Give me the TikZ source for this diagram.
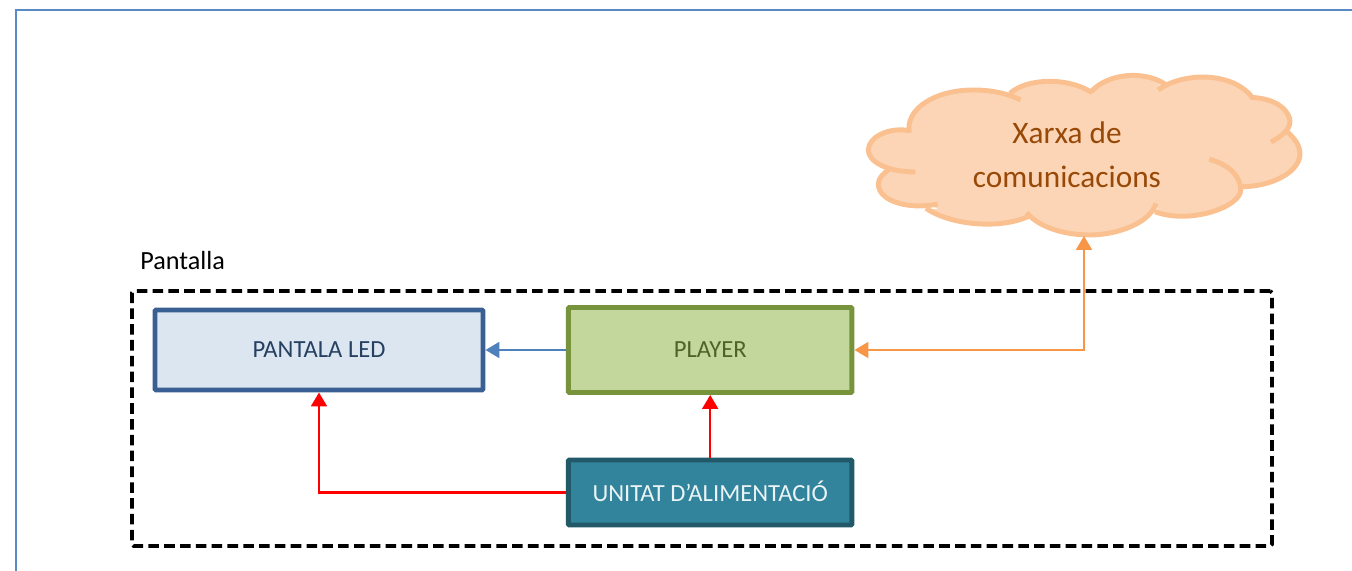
\documentclass[tikz,border=0pt]{standalone}
\usepackage{fontspec}
\setmainfont{Carlito}
\usetikzlibrary{arrows.meta}
\definecolor{framecol}{HTML}{5A8AC6}
\definecolor{ledfill}{HTML}{DCE6F1}
\definecolor{ledline}{HTML}{3A5F92}
\definecolor{ledtext}{HTML}{254061}
\definecolor{playerfill}{HTML}{C3D69B}
\definecolor{playerline}{HTML}{77933C}
\definecolor{playertext}{HTML}{4F6228}
\definecolor{powerfill}{HTML}{31849B}
\definecolor{powerline}{HTML}{215968}
\definecolor{cloudfill}{HTML}{FBD5B5}
\definecolor{cloudline}{HTML}{FAC090}
\definecolor{cloudtext}{HTML}{984807}
\definecolor{linkblue}{HTML}{4F81BD}
\definecolor{linkorange}{HTML}{F79646}
\newcommand{\cloudlobes}{
(90.93,-13.27) .. controls (90.5,-11) and (93.33,-9) .. (97.33,-9) .. controls (99.33,-9) and (100.83,-9.4) .. (102.07,-10)
(101,-9.33) .. controls (102.67,-7.83) and (106.67,-7.67) .. (109.17,-9.23)
(109.07,-9.23) .. controls (110.67,-7.33) and (114.33,-7) .. (116.5,-8.4)
(115.83,-9) .. controls (118,-7.33) and (123,-7) .. (125.17,-9.67)
(125,-9.73) .. controls (128,-9.83) and (129,-11.33) .. (129,-12.17) .. controls (129,-13) and (128,-13.73) .. (127.1,-14.2)
(128.6,-13.07) .. controls (129.67,-14) and (130,-14.67) .. (130,-15.5) .. controls (129.83,-17.33) and (127,-18.67) .. (124.17,-18.67)
(120.93,-15.93) .. controls (123,-16.5) and (124.07,-17.67) .. (124.07,-19) .. controls (124.07,-20.67) and (119,-22.5) .. (115.5,-21.17)
(115.6,-20.33) .. controls (115,-22.33) and (111.67,-23.5) .. (109,-23.5) .. controls (106,-23.5) and (103.67,-22.5) .. (102.67,-21.27)
(102.93,-21.6) .. controls (100,-23) and (95,-22.5) .. (92.6,-20.83)
(93.77,-20.4) .. controls (91,-21) and (87.83,-20.17) .. (87.83,-18.4) .. controls (87.83,-17.83) and (88.33,-17.33) .. (88.93,-16.93)
(91.53,-17.2) .. controls (88.67,-17.17) and (86.83,-16.17) .. (86.83,-15) .. controls (86.83,-13.67) and (89,-12.67) .. (90.93,-13.07)
}
\begin{document}
\begin{tikzpicture}[scale=0.2]
\tikzstyle{every node}+=[inner sep=0pt]
\tikzstyle{blockbox}=[draw, line width=2.83pt, rounded corners=0.6pt, font=\fontsize{14pt}{16pt}\selectfont]
\tikzstyle{linkline}=[line width=1.3pt, -{Triangle[length=7.9pt,width=9pt]}]
\useasboundingbox (0,0) rectangle (135.2,-57.1);
\draw [framecol, line width=1.2pt] (1.6,-57.1) -- (1.6,-1) -- (135.2,-1);
\fill [cloudfill] (91,-13.2) -- (97,-9.3) -- (101,-9.4) -- (102,-8.9) -- (109.1,-9.2) -- (112.5,-8.2) -- (116,-8.5) -- (120,-8.4) -- (125,-9.6) -- (128.5,-11) -- (128.8,-13) -- (129.7,-15.5) -- (127,-18) -- (124,-18.5) -- (124,-19.5) -- (119,-21.2) -- (115.3,-20.8) -- (109,-23.3) -- (103,-21.7) -- (98,-21.8) -- (95,-21.5) -- (92.6,-20.3) -- (89,-19.5) -- (88.2,-18.4) -- (89,-17) -- (87,-15.5) -- (87.3,-14.2) -- cycle;
\fill [cloudfill] \cloudlobes;
\draw [cloudline, line width=2.8pt] \cloudlobes;
\node [cloudtext, align=center, font=\fontsize{17.8pt}{25pt}\selectfont] (xarxa) at (106.7,-15.5) {Xarxa de\\comunicacions};
\coordinate (xarxabase) at (108.4,-23.6);
\node [draw, line width=2.1pt, rounded corners=1pt, dash pattern=on 6pt off 3pt, minimum width=22.8cm, minimum height=5.1cm] (pantalla) at (70.2,-41.85) {};
\node [anchor=west, font=\fontsize{14.9pt}{17pt}\selectfont] (pantallalabel) at (14,-26.1) {Pantalla};
\node [blockbox, ledline, fill=ledfill, text=ledtext, minimum width=6.56cm, minimum height=1.6cm] (led) at (31.9,-35) {\raisebox{1pt}{PANTALA LED}};
\node [blockbox, playerline, fill=playerfill, text=playertext, minimum width=5.67cm, minimum height=1.7cm] (player) at (71.02,-35) {\raisebox{1pt}{PLAYER}};
\node [blockbox, powerline, fill=powerfill, text=white!90!powerfill, minimum width=5.67cm, minimum height=1.3cm] (power) at (71.02,-49.25) {\raisebox{1pt}{UNITAT D’ALIMENTACIÓ}};
\draw [linkline, linkblue] (player.west) -- (led.east);
\draw [linkline, red] (power.north) -- (player.south);
\draw [linkline, red] (power.west) -| (led.south);
\draw [line width=1.3pt, linkorange, {Triangle[length=7.9pt,width=9pt]}-{Triangle[length=7.9pt,width=9pt]}] (player.east) -| (xarxabase);
\end{tikzpicture}
\end{document}
